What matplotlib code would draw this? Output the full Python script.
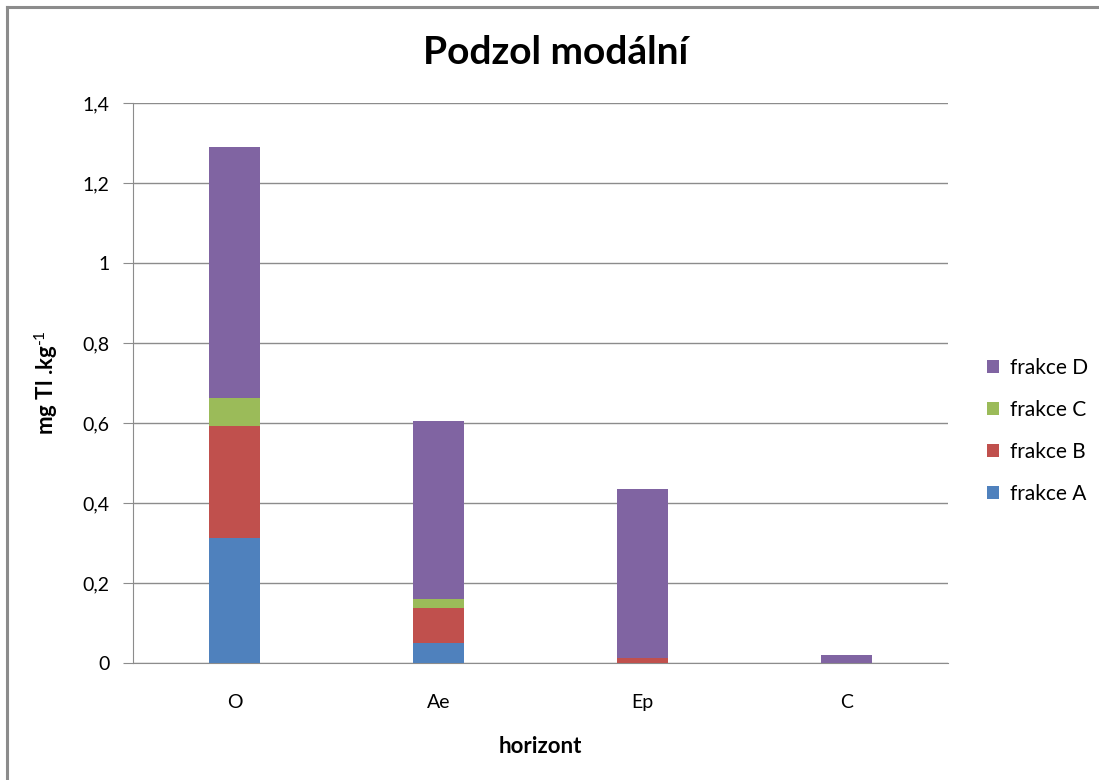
import matplotlib.pyplot as plt
import numpy as np
from matplotlib.lines import Line2D

# horizons and fractions (mg Tl / kg)
horizons = ['O', 'Ae', 'Ep', 'C']
frakce_A = [0.313, 0.049, 0.0, 0.0]
frakce_B = [0.280, 0.088, 0.013, 0.0]
frakce_C = [0.070, 0.024, 0.0, 0.0]
frakce_D = [0.626, 0.445, 0.421, 0.020]

series = [('frakce A', frakce_A, '#4f81bd'),
          ('frakce B', frakce_B, '#c0504d'),
          ('frakce C', frakce_C, '#9bbb59'),
          ('frakce D', frakce_D, '#8064a2')]

plt.rcParams['font.family'] = ['Lato', 'DejaVu Sans']
plt.rcParams['mathtext.fontset'] = 'custom'
plt.rcParams['mathtext.rm'] = 'Lato'

fig = plt.figure(figsize=(10.99, 7.80), dpi=100)
ax = fig.add_axes([133/1099, 117/780, 815/1099, 560/780])

# outer chart frame - only top and left edges are visible
fx, fy = 7/1099, 1 - 7/780
fig.add_artist(Line2D([fx, 1.01], [fy, fy], transform=fig.transFigure, color='#8c8c8c', lw=2.2))
fig.add_artist(Line2D([fx, fx], [-0.01, fy], transform=fig.transFigure, color='#8c8c8c', lw=2.2))

x = np.arange(len(horizons))
bottom = np.zeros(len(horizons))
handles = []
for name, vals, col in series:
    b = ax.bar(x, vals, 0.25, bottom=bottom, color=col, label=name, zorder=3)
    handles.append(b)
    bottom += np.array(vals)

ax.set_xlim(-0.5, 3.5)
ax.set_ylim(0, 1.4)
yt = np.arange(0, 1.41, 0.2)
ax.set_yticks(yt)
ax.set_yticklabels(['0' if v == 0 else ('1' if abs(v-1) < 1e-9 else f'{v:.1f}'.replace('.', ',')) for v in yt])
ax.set_xticks(x)
ax.set_xticklabels(horizons)
ax.yaxis.grid(True, color='#8c8c8c', linewidth=1.0, zorder=0)
ax.tick_params(axis='y', length=7, color='#8c8c8c', labelsize=14, pad=10)
ax.tick_params(axis='x', length=0, labelsize=14, pad=22)
for s in ['top', 'right']:
    ax.spines[s].set_visible(False)
ax.spines['left'].set_color('#8c8c8c')
ax.spines['bottom'].set_color('#8c8c8c')

ax.set_xlabel('horizont', fontsize=16, fontweight='bold', labelpad=18)
ax.set_ylabel(r'mg Tl .kg$^{\mathrm{\text{-}1}}$', fontsize=16, fontweight='bold', labelpad=16)

fig.text(556/1099, 1 - 52/780, 'Podzol modální', fontsize=28, fontweight='bold',
         ha='center', va='center')

fig.legend(handles[::-1], [s[0] for s in series][::-1], loc='center left',
           bbox_to_anchor=(968/1099, 1 - 431/780), frameon=False, fontsize=15,
           handlelength=0.6, handleheight=0.6, handletextpad=0.5, labelspacing=1.05)

fig.savefig('out.png', dpi=100)
